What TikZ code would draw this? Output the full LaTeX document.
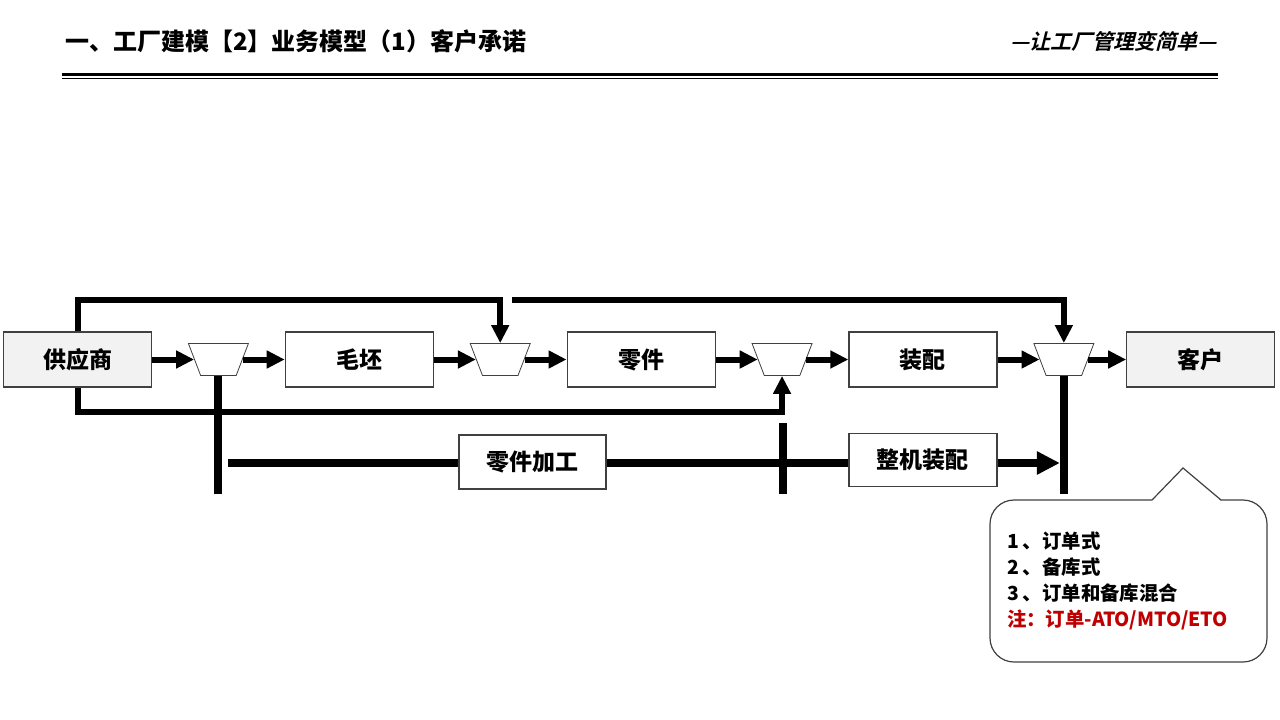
\documentclass[tikz,border=0pt]{standalone}
\usepackage{fontspec}
\setmainfont{Noto Sans CJK SC}
\newfontfamily\slantcjk[FakeSlant=0.25]{Noto Sans CJK SC Bold}
\definecolor{boxgray}{RGB}{242,242,242}
\definecolor{edgegray}{RGB}{64,64,64}
\definecolor{notered}{RGB}{192,0,0}
\usetikzlibrary{arrows.meta, shapes.geometric, positioning}

\begin{document}
\begin{tikzpicture}[
          x=1pt, y=-1pt,
          stage/.style={draw=edgegray, line width=1.2pt, minimum width=148pt,
              minimum height=55pt, inner sep=0pt,
              font=\bfseries\fontsize{23}{27}\selectfont},
          ends/.style={stage, fill=boxgray},
          gate/.style={trapezium, shape border rotate=180, trapezium stretches=true,
              trapezium left angle=71, trapezium right angle=71,
              draw=edgegray, line width=0.8pt, fill=white,
              minimum width=60pt, minimum height=32pt, inner sep=1pt},
          flow/.style={-{Triangle[length=18pt, width=17pt]}, line width=6pt},
          heavy/.style={line width=8pt},
          push/.style={-{Triangle[length=23pt, width=22pt]}, line width=8pt},
          note/.style={draw=edgegray, line width=1.2pt, fill=white,
              rounded corners=24pt, minimum width=277pt, minimum height=162pt,
              inner sep=17pt, text width=243pt, align=left,
              font=\bfseries\fontsize{19.4}{26}\selectfont}
        ]
        \useasboundingbox (0,0) rectangle (1280,720);
        \node[anchor=west, inner sep=0pt, font=\bfseries\fontsize{24}{28}\selectfont]
        (title) at (65,41) {一、工厂建模【2】业务模型（1）客户承诺};
        \node[anchor=east, inner sep=0pt, font=\slantcjk\fontsize{21}{24}\selectfont]
        (motto) at (1217,41) {—让工厂管理变简单—};
        \draw[line width=3pt] (62,74.5) -- (1218,74.5);
        \draw[line width=1.2pt] (62,78.5) -- (1218,78.5);

        \node[ends] (sup) at (77.5,359.5) {供应商};
        \node[gate, right=42pt of sup]   (m1)    {};
        \node[stage, right=42pt of m1]   (blank) {毛坯};
        \node[gate, right=42pt of blank] (m2)    {};
        \node[stage, right=42pt of m2]   (part)  {零件};
        \node[gate, right=42pt of part]  (m3)    {};
        \node[stage, right=42pt of m3]   (asm)   {装配};
        \node[gate, right=42pt of asm]   (m4)    {};
        \node[ends, right=38pt of m4]    (cust)  {客户};
        \node[stage, minimum width=147pt, minimum height=54pt]
        (mach) at (532.5,462) {零件加工};
        \node[stage, below=45pt of asm, minimum height=53pt] (final) {整机装配};

        \coordinate (over)  at (0,300);
        \coordinate (split) at (512,300);
        \coordinate (under) at (0,412);
        \coordinate (floor) at (0,494);
        \coordinate (rail)  at (228,463);
        \coordinate (cross) at (783,423);

        \foreach \a/\b in {sup/m1, m1/blank, blank/m2, m2/part, part/m3, m3/asm, asm/m4, m4/cust}
        \draw[flow] (\a) -- (\b);
        \draw[flow] (sup.north) |- (over -| m2.north) -- (m2.north);
        \draw[flow] (split) -| (m4.north);
        \draw[flow] (sup.south) |- (under -| m3.south) -- (m3.south);

        \draw[heavy] (m1.south) -- (m1.south |- floor);
        \draw[heavy] (rail) -- (rail -| mach.west);
        \draw[heavy] (mach.east |- rail) -- (final.west |- rail);
        \draw[heavy] (cross) -- (cross |- floor);
        \draw[push, shorten >=4pt] (final.east |- rail) -- (m4.south |- rail);
        \draw[heavy] (m4.south) -- (m4.south |- floor);

        \node[note] (tip) at (1128.5,581)
        {1\hspace{4pt}、订单式\\2\hspace{4pt}、备库式\\3\hspace{4pt}、订单和备库混合\\\textcolor{notered}{注：订单-ATO/MTO/ETO}};
        \fill[white] (1151,502) -- (1183,468) -- (1222,502) -- cycle;
        \draw[edgegray, line width=1.2pt] (1152,500) -- (1183,468) -- (1221,500);
      \end{tikzpicture}
\end{document}
